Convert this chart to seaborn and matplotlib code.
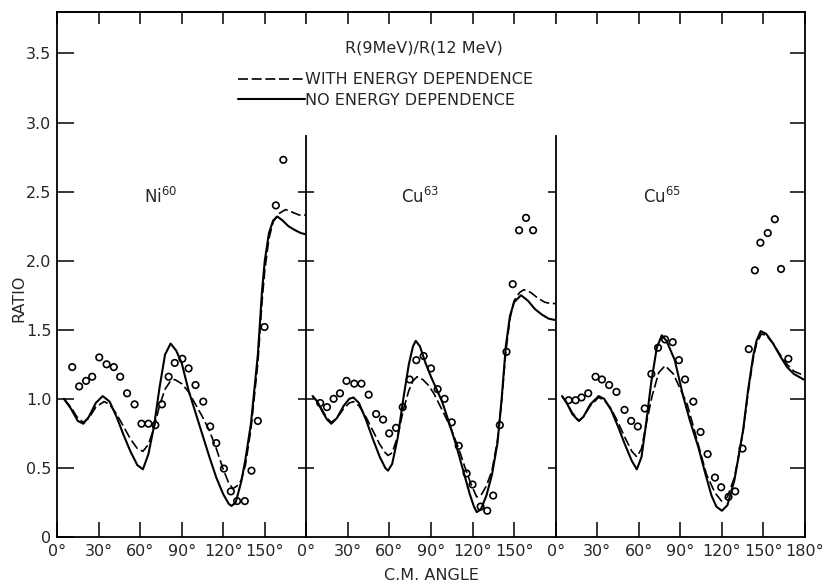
import matplotlib
matplotlib.use('Agg')
import matplotlib.pyplot as plt
import numpy as np
import seaborn as sns

sns.set_style('ticks')
plt.rcParams['font.family'] = ['DejaVu Sans']

# ---- curves: (angle deg, ratio) ----
ni60_no_x = [5, 10, 15, 19, 23, 28, 33, 38, 43, 48, 53, 58, 62, 66, 70, 74, 78, 82, 86, 90, 95, 100, 105, 110,
             115, 120, 124, 126, 129, 133, 136, 140, 145, 148, 150, 153, 156, 159, 163, 167, 172, 176, 180]
ni60_no_y = [1.00, 0.93, 0.84, 0.82, 0.87, 0.97, 1.02, 0.98, 0.87, 0.74, 0.62, 0.52, 0.49, 0.60, 0.80, 1.08,
             1.32, 1.40, 1.35, 1.26, 1.06, 0.90, 0.74, 0.58, 0.43, 0.31, 0.24, 0.225, 0.25, 0.40, 0.56, 0.82,
             1.32, 1.78, 2.00, 2.20, 2.29, 2.32, 2.29, 2.25, 2.22, 2.20, 2.19]
ni60_with_x = [5, 10, 15, 19, 23, 28, 34, 38, 43, 48, 53, 58, 62, 66, 70, 74, 78, 82, 85, 90, 95, 100, 105, 110,
               115, 120, 124, 127, 130, 133, 136, 140, 145, 148, 150, 153, 156, 160, 165, 170, 175, 180]
ni60_with_y = [1.00, 0.94, 0.86, 0.83, 0.86, 0.94, 0.98, 0.96, 0.89, 0.80, 0.71, 0.64, 0.62, 0.67, 0.79, 0.95,
               1.07, 1.13, 1.14, 1.11, 1.05, 0.96, 0.87, 0.77, 0.64, 0.49, 0.39, 0.35, 0.37, 0.41, 0.52, 0.78,
               1.26, 1.70, 1.93, 2.16, 2.28, 2.34, 2.37, 2.35, 2.33, 2.33]

cu63_no_x = [4.5, 8, 12, 15, 18, 22, 27, 31, 34, 38, 43, 48, 53, 57, 59, 62, 66, 70, 74, 77, 79, 82, 86, 90, 94,
             98, 103, 108, 113, 118, 121, 123, 126, 130, 134, 138, 141, 144, 147, 150, 155, 160, 165, 170, 175, 180]
cu63_no_y = [1.02, 0.98, 0.90, 0.85, 0.82, 0.86, 0.95, 1.00, 1.01, 0.97, 0.85, 0.71, 0.58, 0.50, 0.48, 0.53,
             0.72, 1.00, 1.25, 1.38, 1.42, 1.38, 1.26, 1.16, 1.07, 0.98, 0.83, 0.67, 0.49, 0.31, 0.22, 0.18,
             0.20, 0.30, 0.45, 0.68, 1.00, 1.38, 1.60, 1.70, 1.75, 1.71, 1.65, 1.61, 1.58, 1.57]
cu63_with_x = [4.5, 8, 12, 15, 18, 22, 27, 31, 34, 38, 43, 48, 53, 57, 59, 62, 66, 70, 74, 77, 80, 84, 88, 92,
               96, 100, 105, 110, 115, 119, 123, 126, 130, 134, 138, 141, 144, 147, 150, 154, 157, 162, 167, 172,
               176, 180]
cu63_with_y = [1.02, 0.98, 0.91, 0.86, 0.83, 0.86, 0.93, 0.97, 0.98, 0.95, 0.87, 0.77, 0.67, 0.61, 0.59, 0.61,
               0.73, 0.92, 1.06, 1.13, 1.16, 1.14, 1.10, 1.04, 0.96, 0.88, 0.77, 0.64, 0.49, 0.38, 0.29, 0.30,
               0.37, 0.48, 0.70, 0.98, 1.34, 1.58, 1.71, 1.77, 1.79, 1.77, 1.73, 1.70, 1.69, 1.69]

cu65_no_x = [4.6, 8, 12, 16.6, 20, 25, 31, 35, 40, 45, 50, 55, 58.6, 62, 65, 69, 73, 76.6, 80, 86, 92, 97, 103,
             108, 112.5, 116, 120, 124, 129, 132, 135.4, 139, 142.6, 145, 148, 152, 157, 162, 167, 172, 179]
cu65_no_y = [1.02, 0.97, 0.89, 0.84, 0.87, 0.96, 1.02, 1.00, 0.92, 0.80, 0.67, 0.55, 0.49, 0.58, 0.80, 1.12,
             1.37, 1.46, 1.42, 1.28, 1.02, 0.84, 0.65, 0.46, 0.30, 0.22, 0.19, 0.23, 0.41, 0.58, 0.78, 1.07,
             1.31, 1.42, 1.49, 1.47, 1.40, 1.31, 1.23, 1.18, 1.14]
cu65_with_x = [4.6, 8, 12, 17, 20, 25, 31, 35, 40, 45, 50, 55, 58.6, 62, 65, 69.6, 74.4, 79, 85, 90, 95, 99.4,
               104, 109, 115, 119.8, 124, 129, 132, 135.4, 139, 142.6, 145, 148.5, 152, 157, 162, 167, 172, 179]
cu65_with_y = [1.02, 0.97, 0.90, 0.84, 0.87, 0.95, 1.01, 0.99, 0.93, 0.83, 0.72, 0.62, 0.58, 0.64, 0.80, 1.02,
               1.19, 1.24, 1.18, 1.07, 0.96, 0.80, 0.63, 0.45, 0.32, 0.26, 0.29, 0.43, 0.58, 0.77, 1.05, 1.29,
               1.40, 1.47, 1.46, 1.40, 1.32, 1.25, 1.20, 1.17]

# ---- measured ratios (open circles) ----
ni60_pts_x = [11, 16, 21, 25.4, 30.5, 35.8, 41, 45.6, 50.6, 56, 61, 66, 71, 75.8, 80.6, 85, 90.5, 95, 100,
              105.6, 110.6, 115, 120.5, 125.5, 130, 135.6, 140.4, 145, 149.8, 158, 163.4]
ni60_pts_y = [1.23, 1.09, 1.13, 1.16, 1.30, 1.25, 1.23, 1.16, 1.04, 0.96, 0.82, 0.82, 0.81, 0.96, 1.16, 1.26,
              1.29, 1.22, 1.10, 0.98, 0.80, 0.68, 0.495, 0.33, 0.26, 0.26, 0.48, 0.84, 1.52, 2.40, 2.73]
cu63_pts_x = [10, 14.9, 19.7, 24.3, 29, 34.6, 39.8, 45, 50.4, 55.4, 59.8, 64.8, 69.6, 74.6, 79.4, 84.7, 90,
              94.8, 99.8, 105, 110, 115.7, 120, 125.8, 130.6, 134.9, 139.7, 144.5, 149, 153.6, 158.6, 163.7]
cu63_pts_y = [0.97, 0.94, 1.00, 1.04, 1.13, 1.11, 1.11, 1.03, 0.89, 0.85, 0.75, 0.79, 0.94, 1.14, 1.28, 1.31,
              1.22, 1.07, 1.00, 0.83, 0.66, 0.46, 0.38, 0.22, 0.19, 0.30, 0.81, 1.34, 1.83, 2.22, 2.31, 2.22]
cu65_pts_x = [9.4, 14.4, 18.7, 23.5, 28.8, 33.4, 38.6, 43.9, 49.7, 54.5, 59.3, 64.3, 69.1, 73.9, 79, 84.5, 89,
              93.4, 99.4, 104.6, 109.7, 115, 119.5, 124.8, 129.6, 134.9, 139.4, 143.8, 147.8, 153.1, 158.2,
              162.7, 168]
cu65_pts_y = [0.99, 0.99, 1.01, 1.04, 1.16, 1.14, 1.10, 1.05, 0.92, 0.84, 0.80, 0.93, 1.18, 1.37, 1.43, 1.41,
              1.28, 1.14, 0.98, 0.76, 0.60, 0.43, 0.36, 0.29, 0.33, 0.64, 1.36, 1.93, 2.13, 2.20, 2.30, 1.94,
              1.29]

panel_names = [r'Ni$^{60}$', r'Cu$^{63}$', r'Cu$^{65}$']
ytick_vals = [0, 0.5, 1.0, 1.5, 2.0, 2.5, 3.0, 3.5]
ytick_text = ['0', '0.5', '1.0', '1.5', '2.0', '2.5', '3.0', '3.5']

panels = [
    (ni60_no_x, ni60_no_y, ni60_with_x, ni60_with_y, ni60_pts_x, ni60_pts_y),
    (cu63_no_x, cu63_no_y, cu63_with_x, cu63_with_y, cu63_pts_x, cu63_pts_y),
    (cu65_no_x, cu65_no_y, cu65_with_x, cu65_with_y, cu65_pts_x, cu65_pts_y),
]

W, H = 833, 586
fig, axes = plt.subplots(1, 3, figsize=(W / 100, H / 100), dpi=100)
fig.subplots_adjust(left=57 / W, right=805 / W, top=1 - 12 / H, bottom=1 - 537 / H, wspace=0)

lw_spine = 1.3
for i, (ax, (nx, ny, wx, wy, px, py)) in enumerate(zip(axes, panels)):
    sns.lineplot(x=wx, y=wy, ax=ax, color='black', lw=1.2, linestyle=(0, (6, 2.2)),
                 label='WITH ENERGY DEPENDENCE' if i == 0 else None, legend=False)
    sns.lineplot(x=nx, y=ny, ax=ax, color='black', lw=1.5,
                 label='NO ENERGY DEPENDENCE' if i == 0 else None, legend=False)
    sns.scatterplot(x=px, y=py, ax=ax, marker='o', s=22, facecolor='none', edgecolor='black',
                    linewidth=1.2, legend=False, zorder=3)

    ax.set_xlim(0, 180)
    ax.set_ylim(0, 3.8)
    ax.set_xlabel('')
    ax.set_ylabel('')
    xt = [0, 30, 60, 90, 120, 150] + ([180] if i == 2 else [])
    ax.set_xticks(xt)
    ax.set_xticklabels([f'{v}°' for v in xt], fontsize=11.5)
    ax.tick_params(axis='x', direction='in', length=11, width=lw_spine, pad=5, bottom=True, top=False)
    top = ax.secondary_xaxis('top')
    top.set_xticks([0, 30, 60, 90, 120, 150, 180])
    top.tick_params(axis='x', direction='in', length=8.5, width=lw_spine, labeltop=False)
    top.spines['top'].set_linewidth(lw_spine)

    for s in ax.spines.values():
        s.set_linewidth(lw_spine)
        s.set_color('black')
    ax.spines['top'].set_visible(True)

    if i == 0:
        ax.set_yticks(ytick_vals)
        ax.set_yticklabels(ytick_text, fontsize=11.5)
        ax.tick_params(axis='y', direction='in', length=12, width=lw_spine, left=True, right=False, pad=4)
        ax.spines['right'].set_visible(False)
    elif i == 1:
        ax.set_yticks(ytick_vals[1:6])
        ax.tick_params(axis='y', direction='inout', length=11, width=lw_spine, left=True, right=True,
                       labelleft=False)
        ax.spines['left'].set_bounds(0, 2.9)
        ax.spines['right'].set_visible(False)
    else:
        ax.set_yticks(ytick_vals[1:])
        ax.tick_params(axis='y', direction='in', length=11, width=lw_spine, left=False, right=True,
                       labelleft=False)
        ax.spines['left'].set_bounds(0, 2.9)
        ax.spines['right'].set_visible(True)

    ax.text(63 if i != 1 else 68, 2.42, panel_names[i], fontsize=12, ha='left', va='baseline')

handles, labels = axes[0].get_legend_handles_labels()
fig.legend(handles, labels, loc='upper left', bbox_to_anchor=(232 / W, 1 - 66 / H), frameon=False,
           handlelength=4.2, handletextpad=0.0, labelspacing=0.35, fontsize=11.5, borderaxespad=0)

fig.text(424 / W, 1 - 48 / H, 'R(9MeV)/R(12 MeV)', ha='center', va='center', fontsize=11.5)
fig.text(431 / W, 1 - 576 / H, 'C.M. ANGLE', ha='center', va='center', fontsize=11.5)
fig.text(19 / W, 1 - 298 / H, 'RATIO', ha='center', va='center', rotation=90, fontsize=11.5)

fig.savefig('out.png', dpi=100)
